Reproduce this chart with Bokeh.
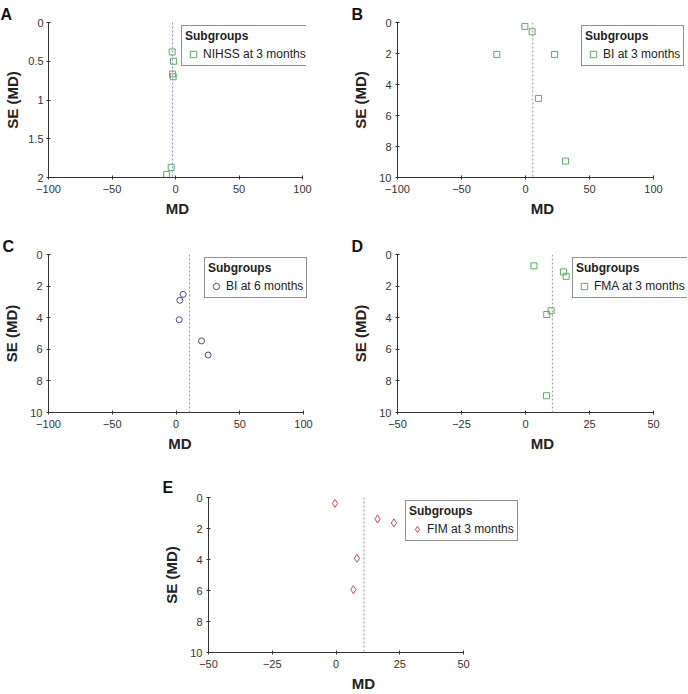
from bokeh.plotting import figure
from bokeh.models import Range1d, FixedTicker, Span, Legend, LegendItem
from bokeh.layouts import column, row
from bokeh.embed import file_html
from bokeh.resources import INLINE

FONT = "Liberation Sans"

# ---------------- data ----------------
md_a = [-2.6, -1.6, -2.3, -1.8, -3.4, -7.0]
se_a = [0.38, 0.50, 0.665, 0.70, 1.87, 1.96]
pooled_a = -2.3

md_b = [-0.5, 5.2, -22.4, 22.7, 10.2, 31.3]
se_b = [0.25, 0.60, 2.06, 2.06, 4.90, 8.94]
pooled_b = 5.7

md_c = [5.6, 3.0, 2.5, 20.0, 25.2]
se_c = [2.52, 2.90, 4.13, 5.47, 6.36]
pooled_c = 10.6

md_d = [3.3, 14.8, 15.9, 10.0, 8.3, 8.2]
se_d = [0.72, 1.10, 1.38, 3.56, 3.80, 8.94]
pooled_d = 10.5

md_e = [-0.4, 16.3, 22.7, 8.2, 6.8]
se_e = [0.38, 1.39, 1.64, 3.92, 5.94]
pooled_e = 11.0

x_ticks_100 = [-100, -50, 0, 50, 100]
x_labels_100 = ["\u2212100", "\u221250", "0", "50", "100"]
x_ticks_50 = [-50, -25, 0, 25, 50]
x_labels_50 = ["\u221250", "\u221225", "0", "25", "50"]
y_ticks_2 = [0, 0.5, 1, 1.5, 2]
y_labels_2 = ["0", "0.5", "1", "1.5", "2"]
y_ticks_10 = [0, 2, 4, 6, 8, 10]
y_labels_10 = ["0", "2", "4", "6", "8", "10"]

legend_labels = ["NIHSS at 3 months", "BI at 3 months", "BI at 6 months",
                 "FMA at 3 months", "FIM at 3 months"]
panel_letters = ["A", "B", "C", "D", "E"]

GREEN = "#5aaf5c"
BLUE = "#4b4b9b"
RED = "#c4494f"
LEG_H = 44


def panel(letter, md, se, pooled, xr, xt, xl, ymax, yt, yl, marker, color, msize,
          span_color, leg_label, left, axis_w, extra, right, top, fh, bottom,
          leg_x, let_x, let_standoff, y_std=(4, 7)):
    x0, x1 = xr
    x_end = x1 + extra * (x1 - x0) / axis_w
    p = figure(frame_width=axis_w + extra, frame_height=fh,
               min_border_left=left, min_border_right=right,
               min_border_top=top, min_border_bottom=bottom,
               x_range=Range1d(x0, x_end), y_range=Range1d(ymax, 0),
               output_backend="svg", toolbar_location=None, tools="")
    p.outline_line_color = None
    p.xgrid.visible = False
    p.ygrid.visible = False
    p.background_fill_color = "white"
    p.border_fill_color = "white"

    p.title.text = letter
    p.title.align = "left"
    p.title.offset = let_x
    p.title.standoff = let_standoff
    p.title.text_font = FONT
    p.title.text_font_size = "16px"
    p.title.text_font_style = "bold"
    p.title.text_color = "#111111"

    p.xaxis.axis_label = "MD"
    p.yaxis.axis_label = "SE (MD)"
    p.xaxis.bounds = (x0, x1)
    p.xaxis.ticker = FixedTicker(ticks=xt)
    p.yaxis.ticker = FixedTicker(ticks=yt)
    p.xaxis.major_label_overrides = {t: s for t, s in zip(xt, xl)}
    p.yaxis.major_label_overrides = {t: s for t, s in zip(yt, yl)}
    for ax in (p.xaxis[0], p.yaxis[0]):
        ax.axis_line_color = "#333333"
        ax.major_tick_line_color = "#333333"
        ax.minor_tick_line_color = None
        ax.major_tick_in = 2
        ax.major_tick_out = 2
        ax.major_label_text_font = FONT
        ax.major_label_text_font_size = "11px"
        ax.major_label_text_color = "#333333"
        ax.axis_label_text_font = FONT
        ax.axis_label_text_font_size = "15px"
        ax.axis_label_text_font_style = "bold"
        ax.axis_label_text_color = "#222222"
    p.xaxis.major_label_standoff = 5
    p.xaxis.axis_label_standoff = 4
    p.yaxis.major_label_standoff = y_std[0]
    p.yaxis.axis_label_standoff = y_std[1]

    p.add_layout(Span(location=pooled, dimension="height", line_color=span_color,
                      line_width=1, line_dash="2 2"))

    r = p.scatter(md, se, marker=marker, size=msize, fill_color=None,
                  line_color=color, line_width=1)

    leg = Legend(items=[LegendItem(label=leg_label, renderers=[r])],
                 title="Subgroups", location=(leg_x, fh - LEG_H), margin=0, padding=3,
                 spacing=0, title_standoff=3,
                 glyph_width=16, glyph_height=16, label_height=16,
                 label_standoff=2,
                 title_text_font=FONT, title_text_font_size="12px",
                 title_text_font_style="bold", title_text_color="#222222",
                 label_text_font=FONT, label_text_font_size="12px",
                 label_text_color="#222222",
                 border_line_color="#222222", border_line_width=1,
                 background_fill_color="white", background_fill_alpha=1.0)
    p.add_layout(leg, "center")
    return p


#  ... left axis_w extra right top  fh  bottom leg_x let_x standoff
pA = panel(panel_letters[0], md_a, se_a, pooled_a, (-100, 100), x_ticks_100, x_labels_100,
           2, y_ticks_2, y_labels_2, "square", GREEN, 6, "#8484c4", legend_labels[0],
           48, 254, 4, 38, 22, 155, 53, 133, -48, 0, y_std=(3, 4))
pB = panel(panel_letters[1], md_b, se_b, pooled_b, (-100, 100), x_ticks_100, x_labels_100,
           10, y_ticks_10, y_labels_10, "square", GREEN, 6, "#9a9a9a", legend_labels[1],
           53, 256, 34, 0, 22, 155, 53, 184, -46, 0)
pC = panel(panel_letters[2], md_c, se_c, pooled_c, (-100, 100), x_ticks_100, x_labels_100,
           10, y_ticks_10, y_labels_10, "circle", BLUE, 6, "#9a9a9a", legend_labels[2],
           48, 255, 8, 33, 24, 158, 40, 156, -46, 0)
pD = panel(panel_letters[3], md_d, se_d, pooled_d, (-50, 50), x_ticks_50, x_labels_50,
           10, y_ticks_10, y_labels_10, "square", GREEN, 6, "#9a9a9a", legend_labels[3],
           53, 256, 34, 0, 24, 158, 40, 175, -46, 0)
pE = panel(panel_letters[4], md_e, se_e, pooled_e, (-50, 50), x_ticks_50, x_labels_50,
           10, y_ticks_10, y_labels_10, "diamond", RED, 8, "#9a9a9a", legend_labels[4],
           208, 255, 55, 0, 43, 155, 40, 197, -46, 3)

layout = column(row(pA, pB), row(pC, pD), pE)

open("out.html", "w").write(file_html(layout, INLINE))
